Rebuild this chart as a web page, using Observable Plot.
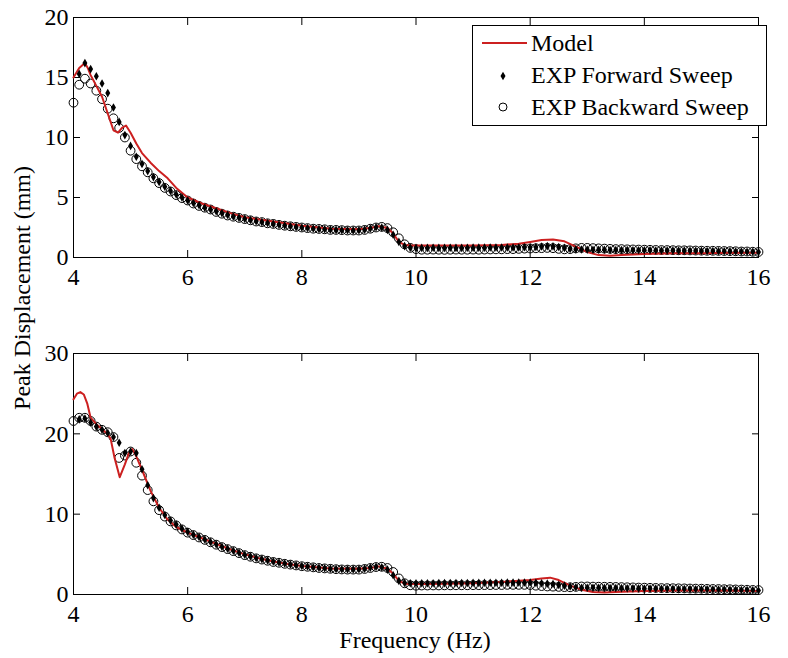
<!DOCTYPE html>
<html><head><meta charset="utf-8">
<script src="https://cdn.jsdelivr.net/npm/d3@7"></script>
<script src="https://cdn.jsdelivr.net/npm/@observablehq/plot@0.6"></script>
<style>
body{margin:0;background:#fff;}
#wrap{position:relative;width:788px;height:658px;font-family:"Liberation Serif","Times New Roman",serif;color:#000;}
.panel{position:absolute;left:0;}
.panel text{font-family:"Liberation Serif","Times New Roman",serif !important;font-size:24px !important;}
#ylab{position:absolute;left:22px;top:288px;transform:translate(-50%,-50%) rotate(-90deg);font-size:24px;white-space:nowrap;}
#xlab{position:absolute;left:415px;top:640px;transform:translate(-50%,-50%);font-size:24px;white-space:nowrap;}
#legend{position:absolute;left:0;top:0;pointer-events:none;}
</style></head><body><div id="wrap"></div>
<script>
// ---- data ----
const xTicks = [4, 6, 8, 10, 12, 14, 16];
const yTicksTop = [0, 5, 10, 15, 20];
const yTicksBot = [0, 10, 20, 30];

const freq = [4.0,4.1,4.2,4.3,4.4,4.5,4.6,4.7,4.8,4.9,5.0,5.1,5.2,5.3,5.4,5.5,5.6,5.7,5.8,5.9,
6.0,6.1,6.2,6.3,6.4,6.5,6.6,6.7,6.8,6.9,7.0,7.1,7.2,7.3,7.4,7.5,7.6,7.7,7.8,7.9,
8.0,8.1,8.2,8.3,8.4,8.5,8.6,8.7,8.8,8.9,9.0,9.1,9.2,9.3,9.4,9.5,9.6,9.7,9.8,9.9,
10.0,10.1,10.2,10.3,10.4,10.5,10.6,10.7,10.8,10.9,11.0,11.1,11.2,11.3,11.4,11.5,11.6,11.7,11.8,11.9,
12.0,12.1,12.2,12.3,12.4,12.5,12.6,12.7,12.8,12.9,13.0,13.1,13.2,13.3,13.4,13.5,13.6,13.7,13.8,13.9,
14.0,14.1,14.2,14.3,14.4,14.5,14.6,14.7,14.8,14.9,15.0,15.1,15.2,15.3,15.4,15.5,15.6,15.7,15.8,15.9,16.0];

// Top panel – EXP backward sweep (circles)
const bwdTop = [12.9,14.4,14.9,14.5,13.9,13.2,12.4,11.6,10.8,10.0,8.9,8.2,7.6,7.1,6.6,6.2,5.8,5.5,5.2,4.95,
4.75,4.5,4.3,4.15,4.0,3.8,3.65,3.5,3.4,3.3,3.2,3.1,3.0,2.95,2.85,2.8,2.72,2.65,2.6,2.55,
2.5,2.45,2.4,2.38,2.35,2.3,2.3,2.28,2.25,2.25,2.25,2.3,2.4,2.5,2.55,2.45,2.1,1.6,1.1,0.8,
0.7,0.65,0.65,0.66,0.65,0.64,0.65,0.66,0.65,0.65,0.66,0.65,0.66,0.67,0.68,0.68,0.7,0.7,0.72,0.74,
0.75,0.77,0.78,0.8,0.78,0.72,0.68,0.7,0.76,0.8,0.8,0.78,0.76,0.74,0.72,0.7,0.7,0.68,0.67,0.66,
0.65,0.64,0.63,0.62,0.62,0.61,0.6,0.6,0.59,0.58,0.57,0.56,0.56,0.55,0.54,0.53,0.52,0.5,0.5,0.48,0.46];

// Top panel – EXP forward sweep (diamonds)
const fwdTop = [null,15.3,16.2,15.7,15.1,14.5,13.7,12.5,11.3,10.2,9.3,8.4,7.8,7.2,6.7,6.3,5.9,5.55,5.25,5.0,
4.75,4.55,4.35,4.15,4.0,3.85,3.7,3.55,3.42,3.32,3.22,3.12,3.03,2.95,2.87,2.8,2.73,2.66,2.6,2.55,
2.5,2.46,2.42,2.38,2.35,2.32,2.3,2.28,2.27,2.26,2.27,2.32,2.42,2.52,2.5,2.3,1.9,1.3,0.95,0.82,
0.8,0.8,0.8,0.81,0.8,0.8,0.81,0.8,0.8,0.81,0.82,0.82,0.82,0.83,0.83,0.83,0.84,0.84,0.84,0.85,
0.85,0.88,0.92,0.95,0.93,0.88,0.8,0.72,0.68,0.66,0.65,0.65,0.64,0.64,0.63,0.63,0.62,0.62,0.61,0.61,
0.6,0.6,0.59,0.59,0.58,0.58,0.57,0.57,0.56,0.56,0.55,0.54,0.54,0.53,0.52,0.51,0.5,0.49,0.48,0.47,0.45];

// Top panel – model (red line)
const modelFreqTop = [4.0,4.05,4.1,4.15,4.2,4.25,4.3,4.4,4.5,4.6,4.7,4.78,4.85,4.92,5.0,5.1,5.2,5.35,5.5,5.65,
5.8,6.0,6.25,6.5,6.75,7.0,7.5,8.0,8.5,9.0,9.2,9.35,9.5,9.6,9.7,9.8,9.9,10.5,11.0,11.5,
11.8,12.0,12.2,12.4,12.6,12.8,13.0,13.2,13.4,13.6,14.0,14.5,15.0,15.5,16.0];
const modelTop = [15.0,15.4,15.8,16.0,16.2,15.8,15.2,14.3,13.4,12.0,10.6,10.4,10.8,11.0,10.4,9.5,8.7,7.9,7.2,6.6,
5.8,5.0,4.5,4.1,3.7,3.35,3.0,2.65,2.4,2.35,2.45,2.6,2.45,2.0,1.3,1.05,1.0,1.0,1.0,1.05,
1.15,1.3,1.45,1.5,1.35,0.9,0.45,0.2,0.15,0.2,0.3,0.35,0.35,0.4,0.4];

// Bottom panel – EXP backward sweep (circles)
const bwdBot = [21.6,22.0,22.0,21.6,20.9,20.5,20.2,19.6,17.0,17.3,17.8,16.4,14.8,13.0,11.6,10.5,9.7,9.1,8.6,8.1,
7.7,7.4,7.1,6.8,6.5,6.2,5.9,5.65,5.4,5.15,4.9,4.7,4.5,4.35,4.2,4.05,3.95,3.82,3.72,3.62,
3.52,3.45,3.38,3.3,3.25,3.2,3.15,3.12,3.1,3.1,3.1,3.18,3.3,3.42,3.45,3.3,2.8,2.0,1.4,1.15,
1.1,1.12,1.12,1.13,1.13,1.14,1.14,1.15,1.15,1.15,1.16,1.16,1.17,1.17,1.18,1.18,1.2,1.2,1.2,1.2,
1.18,1.1,1.05,1.0,0.98,0.95,0.92,0.9,0.95,1.0,1.0,0.98,0.97,0.96,0.95,0.94,0.92,0.9,0.88,0.86,
0.85,0.83,0.82,0.8,0.79,0.78,0.77,0.76,0.74,0.73,0.72,0.7,0.69,0.68,0.66,0.65,0.63,0.61,0.59,0.57,0.55];

// Bottom panel – EXP forward sweep (diamonds)
const fwdBot = [null,21.8,21.9,21.4,20.9,20.5,20.1,19.6,18.9,17.6,17.8,17.6,15.6,13.6,12.0,10.8,9.9,9.2,8.7,8.2,
7.8,7.45,7.15,6.85,6.55,6.25,5.95,5.7,5.45,5.2,4.95,4.75,4.55,4.4,4.25,4.1,3.98,3.85,3.75,3.65,
3.55,3.48,3.4,3.33,3.27,3.22,3.18,3.15,3.13,3.13,3.15,3.22,3.35,3.45,3.4,3.1,2.4,1.7,1.45,1.4,
1.4,1.4,1.41,1.41,1.42,1.42,1.43,1.43,1.44,1.44,1.45,1.45,1.46,1.46,1.47,1.47,1.48,1.48,1.49,1.5,
1.5,1.45,1.4,1.35,1.3,1.2,1.1,1.0,0.9,0.85,0.85,0.84,0.83,0.82,0.81,0.8,0.79,0.78,0.77,0.76,
0.75,0.74,0.73,0.72,0.71,0.7,0.69,0.68,0.67,0.66,0.65,0.64,0.63,0.62,0.61,0.6,0.58,0.56,0.55,0.53,0.5];

// Bottom panel – model (red line)
const modelFreqBot = [4.0,4.06,4.12,4.18,4.24,4.3,4.4,4.5,4.6,4.65,4.72,4.81,4.9,4.97,5.03,5.1,5.23,5.35,5.5,5.64,
5.8,6.0,6.25,6.5,6.75,7.0,7.25,7.5,7.75,8.0,8.5,9.0,9.2,9.35,9.5,9.6,9.7,9.8,10.0,10.5,
11.0,11.5,12.0,12.2,12.35,12.5,12.7,12.9,13.1,13.3,13.5,14.0,14.5,15.0,15.5,16.0];
const modelBot = [24.3,25.0,25.2,24.9,23.8,22.0,21.2,20.6,19.9,19.4,17.0,14.6,16.2,17.6,18.1,17.2,15.0,12.9,10.8,9.4,
8.4,7.7,7.0,6.3,5.6,5.0,4.5,4.1,3.8,3.55,3.25,3.2,3.3,3.5,3.2,2.6,1.7,1.35,1.3,1.35,
1.4,1.55,1.8,2.0,2.1,1.8,1.1,0.6,0.3,0.25,0.3,0.45,0.5,0.5,0.5,0.45];

// ---- drawing ----
const RED = "#cc2020";
const FONT = "'Liberation Serif','Times New Roman',serif";
const rows = (xs, ys) => xs.map((f, i) => ({f, v: ys[i]})).filter(d => d.v != null);

function panel({yMax, yTicks, model, bwd, fwd, height, marginTop, marginBottom}) {
  return Plot.plot({
    width: 788, height, marginLeft: 73, marginRight: 30, marginTop, marginBottom,
    style: {fontFamily: FONT, fontSize: "24px", color: "#000", background: "transparent", overflow: "visible"},
    x: {domain: [4, 16]},
    y: {domain: [0, yMax]},
    marks: [
      Plot.frame({stroke: "#000", strokeWidth: 1}),
      Plot.axisX(xTicks, {anchor: "bottom", tickSize: -7, tickPadding: 17, label: null, fontSize: 24, fontFamily: FONT}),
      Plot.axisX(xTicks, {anchor: "top", tickSize: -7, tickFormat: () => "", label: null}),
      Plot.axisY(yTicks, {anchor: "left", tickSize: -7, tickPadding: 12, label: null, fontSize: 24, fontFamily: FONT}),
      Plot.axisY(yTicks, {anchor: "right", tickSize: -7, tickFormat: () => "", label: null}),
      Plot.dot(bwd, {x: "f", y: "v", r: 4.4, stroke: "#000", strokeWidth: 1, fill: "none"}),
      Plot.line(model, {x: "f", y: "v", stroke: RED, strokeWidth: 2}),
      Plot.dot(fwd, {x: "f", y: "v", symbol: "diamond", r: 2.6, fill: "#000", stroke: "none"})
    ]
  });
}

const wrap = document.getElementById("wrap");
const topPanel = panel({yMax: 20, yTicks: yTicksTop, model: rows(modelFreqTop, modelTop), bwd: rows(freq, bwdTop), fwd: rows(freq, fwdTop), height: 300, marginTop: 17, marginBottom: 43});
topPanel.classList.add("panel"); topPanel.style.top = "0px";
wrap.appendChild(topPanel);
const botPanel = panel({yMax: 30, yTicks: yTicksBot, model: rows(modelFreqBot, modelBot), bwd: rows(freq, bwdBot), fwd: rows(freq, fwdBot), height: 328, marginTop: 23, marginBottom: 64});
botPanel.classList.add("panel"); botPanel.style.top = "330px";
wrap.appendChild(botPanel);

const yl = document.createElement("div"); yl.id = "ylab"; yl.textContent = "Peak Displacement (mm)"; wrap.appendChild(yl);
const xl = document.createElement("div"); xl.id = "xlab"; xl.textContent = "Frequency (Hz)"; wrap.appendChild(xl);

// legend
const legendItems = ["Model", "EXP Forward Sweep", "EXP Backward Sweep"];
const lg = d3.create("svg").attr("id", "legend").attr("width", 788).attr("height", 140)
  .style("font-family", FONT).style("font-size", "24px");
lg.append("rect").attr("x", 472.5).attr("y", 25.5).attr("width", 294).attr("height", 100).attr("fill", "#fff").attr("stroke", "#000");
lg.append("line").attr("x1", 482).attr("x2", 527).attr("y1", 43).attr("y2", 43).attr("stroke", RED).attr("stroke-width", 2);
lg.append("path").attr("d", d3.symbol(d3.symbolDiamond, 22)()).attr("transform", "translate(503,76)").attr("fill", "#000");
lg.append("circle").attr("cx", 503).attr("cy", 107).attr("r", 4).attr("fill", "none").attr("stroke", "#000");
legendItems.forEach((t, i) => {
  lg.append("text").attr("x", 531).attr("y", [43, 75, 107][i]).attr("dy", "0.35em").text(t);
});
wrap.appendChild(lg.node());
</script>
</body></html>
